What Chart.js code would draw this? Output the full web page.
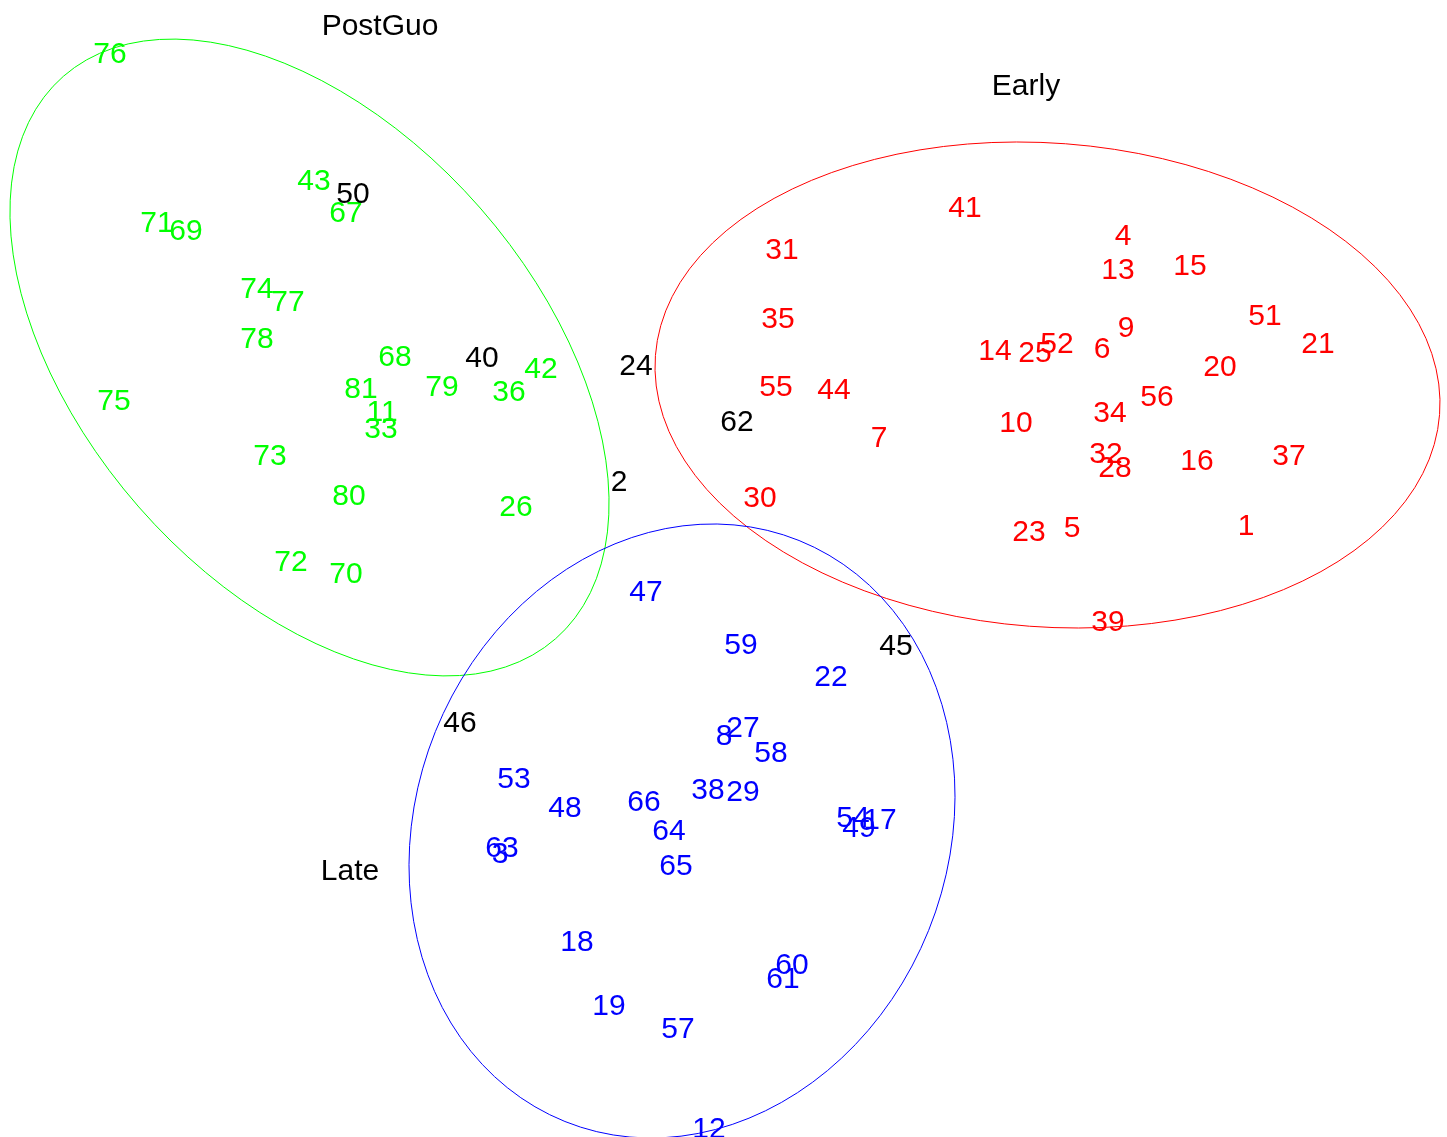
<!DOCTYPE html>
<html>
<head>
<meta charset="utf-8">
<title>Sample groups</title>
<script src="https://cdn.jsdelivr.net/npm/chart.js@4/dist/chart.umd.min.js"></script>
<style>
  html, body { margin: 0; padding: 0; background: #ffffff; }
  #wrap { width: 1447px; height: 1137px; }
</style>
</head>
<body>
<div id="wrap"><canvas id="chart" width="1447" height="1137"></canvas></div>
<script>
// Sample numbers and their positions on the two ordination axes
const postGuoIds = [76, 43, 67, 71, 69, 74, 77, 78, 68, 81, 79, 36, 42, 75, 11, 33, 73, 80, 26, 72, 70];
const postGuoX = [1.10, 3.14, 3.46, 1.57, 1.86, 2.57, 2.88, 2.57, 3.95, 3.61, 4.42, 5.09, 5.41, 1.14, 3.82, 3.81, 2.70, 3.49, 5.16, 2.91, 3.46];
const postGuoY = [10.85, 9.58, 9.26, 9.16, 9.08, 8.50, 8.37, 8.00, 7.82, 7.50, 7.52, 7.47, 7.70, 7.38, 7.27, 7.10, 6.83, 6.43, 6.32, 5.77, 5.65];

const earlyIds = [41, 31, 4, 13, 15, 35, 51, 9, 21, 14, 25, 52, 6, 20, 55, 44, 56, 34, 10, 7, 32, 28, 16, 37, 30, 23, 5, 1, 39];
const earlyX = [9.65, 7.82, 11.23, 11.18, 11.90, 7.78, 12.65, 11.26, 13.18, 9.95, 10.35, 10.57, 11.02, 12.20, 7.76, 8.34, 11.57, 11.10, 10.16, 8.79, 11.06, 11.15, 11.97, 12.89, 7.60, 10.29, 10.72, 12.46, 11.08];
const earlyY = [9.31, 8.89, 9.03, 8.69, 8.73, 8.20, 8.23, 8.11, 7.95, 7.88, 7.86, 7.95, 7.90, 7.72, 7.52, 7.49, 7.42, 7.26, 7.16, 7.01, 6.85, 6.71, 6.78, 6.83, 6.41, 6.07, 6.11, 6.13, 5.17];

const lateIds = [47, 59, 22, 27, 8, 58, 53, 38, 29, 48, 66, 54, 17, 49, 64, 63, 3, 65, 18, 60, 61, 19, 57, 12];
const lateX = [6.46, 7.41, 8.31, 7.43, 7.24, 7.71, 5.14, 7.08, 7.43, 5.65, 6.44, 8.53, 8.80, 8.59, 6.69, 5.02, 5.00, 6.76, 5.77, 7.92, 7.83, 6.09, 6.78, 7.09];
const lateY = [5.47, 4.94, 4.62, 4.11, 4.03, 3.86, 3.60, 3.49, 3.47, 3.31, 3.37, 3.21, 3.19, 3.11, 3.08, 2.91, 2.85, 2.73, 1.97, 1.74, 1.60, 1.33, 1.10, 0.10];

// Samples not assigned to any group
const otherIds = [50, 40, 24, 62, 2, 45, 46];
const otherX = [3.53, 4.82, 6.36, 7.37, 6.19, 8.96, 4.60];
const otherY = [9.45, 7.81, 7.73, 7.17, 6.57, 4.93, 4.16];

// Group titles
const groupNames = ['PostGuo', 'Early', 'Late'];
const groupTitleX = [3.80, 10.26, 3.50];
const groupTitleY = [11.13, 10.53, 2.68];

// Group ellipses: centre, semi-axes and rotation (degrees), in axis units
const ellipseCx = [3.095, 10.475, 6.82];
const ellipseCy = [7.795, 7.52, 3.06];
const ellipseA = [3.737, 3.932, 3.132];
const ellipseB = [2.269, 2.419, 2.659];
const ellipseAngle = [-48.8, -4.3, 68.05];

const groupColors = ['#00ff00', '#ff0000', '#0000ff'];
const otherColor = '#000000';
const FONT_SIZE = 30;
const FONT = FONT_SIZE + 'px "Liberation Sans", Arial, sans-serif';

function points(xs, ys, ids) {
  return xs.map((x, i) => ({ x: x, y: ys[i], label: String(ids[i]) }));
}

const datasets = [
  { label: 'PostGuo', data: points(postGuoX, postGuoY, postGuoIds), textColor: groupColors[0] },
  { label: 'Early', data: points(earlyX, earlyY, earlyIds), textColor: groupColors[1] },
  { label: 'Late', data: points(lateX, lateY, lateIds), textColor: groupColors[2] },
  { label: 'Other', data: points(otherX, otherY, otherIds), textColor: otherColor },
  { label: 'Titles', data: points(groupTitleX, groupTitleY, groupNames), textColor: '#000000' }
].map(d => Object.assign(d, { pointRadius: 0, pointHoverRadius: 0, showLine: false }));

// Draws the group ellipses, then every sample number centred on its point
const labelPlugin = {
  id: 'textLabels',
  afterDatasetsDraw(chart) {
    const ctx = chart.ctx;
    const xs = chart.scales.x, ys = chart.scales.y;
    ctx.save();
    ctx.lineWidth = 1;
    for (let g = 0; g < ellipseCx.length; g++) {
      const phi = ellipseAngle[g] * Math.PI / 180;
      const steps = 100;
      ctx.beginPath();
      for (let k = 0; k <= steps; k++) {
        const t = 2 * Math.PI * k / steps;
        const dx = ellipseA[g] * Math.cos(t), dy = ellipseB[g] * Math.sin(t);
        const vx = ellipseCx[g] + dx * Math.cos(phi) - dy * Math.sin(phi);
        const vy = ellipseCy[g] + dx * Math.sin(phi) + dy * Math.cos(phi);
        const px = xs.getPixelForValue(vx), py = ys.getPixelForValue(vy);
        if (k === 0) ctx.moveTo(px, py); else ctx.lineTo(px, py);
      }
      ctx.strokeStyle = groupColors[g];
      ctx.stroke();
    }
    ctx.font = FONT;
    ctx.textAlign = 'center';
    ctx.textBaseline = 'alphabetic';
    // digits sit about 0.36 em above the baseline at their middle
    const lift = 0.36 * FONT_SIZE;
    chart.data.datasets.forEach((ds, di) => {
      const meta = chart.getDatasetMeta(di);
      ctx.fillStyle = ds.textColor;
      meta.data.forEach((el, i) => {
        ctx.fillText(ds.data[i].label, el.x, el.y + lift);
      });
    });
    ctx.restore();
  }
};

new Chart(document.getElementById('chart'), {
  type: 'scatter',
  data: { datasets: datasets },
  options: {
    responsive: false,
    animation: false,
    layout: { padding: 0 },
    plugins: { legend: { display: false }, tooltip: { enabled: false } },
    scales: {
      x: { type: 'linear', min: 0, max: 14.47, display: false },
      y: { type: 'linear', min: 0, max: 11.37, display: false }
    }
  },
  plugins: [labelPlugin]
});
</script>
</body>
</html>
